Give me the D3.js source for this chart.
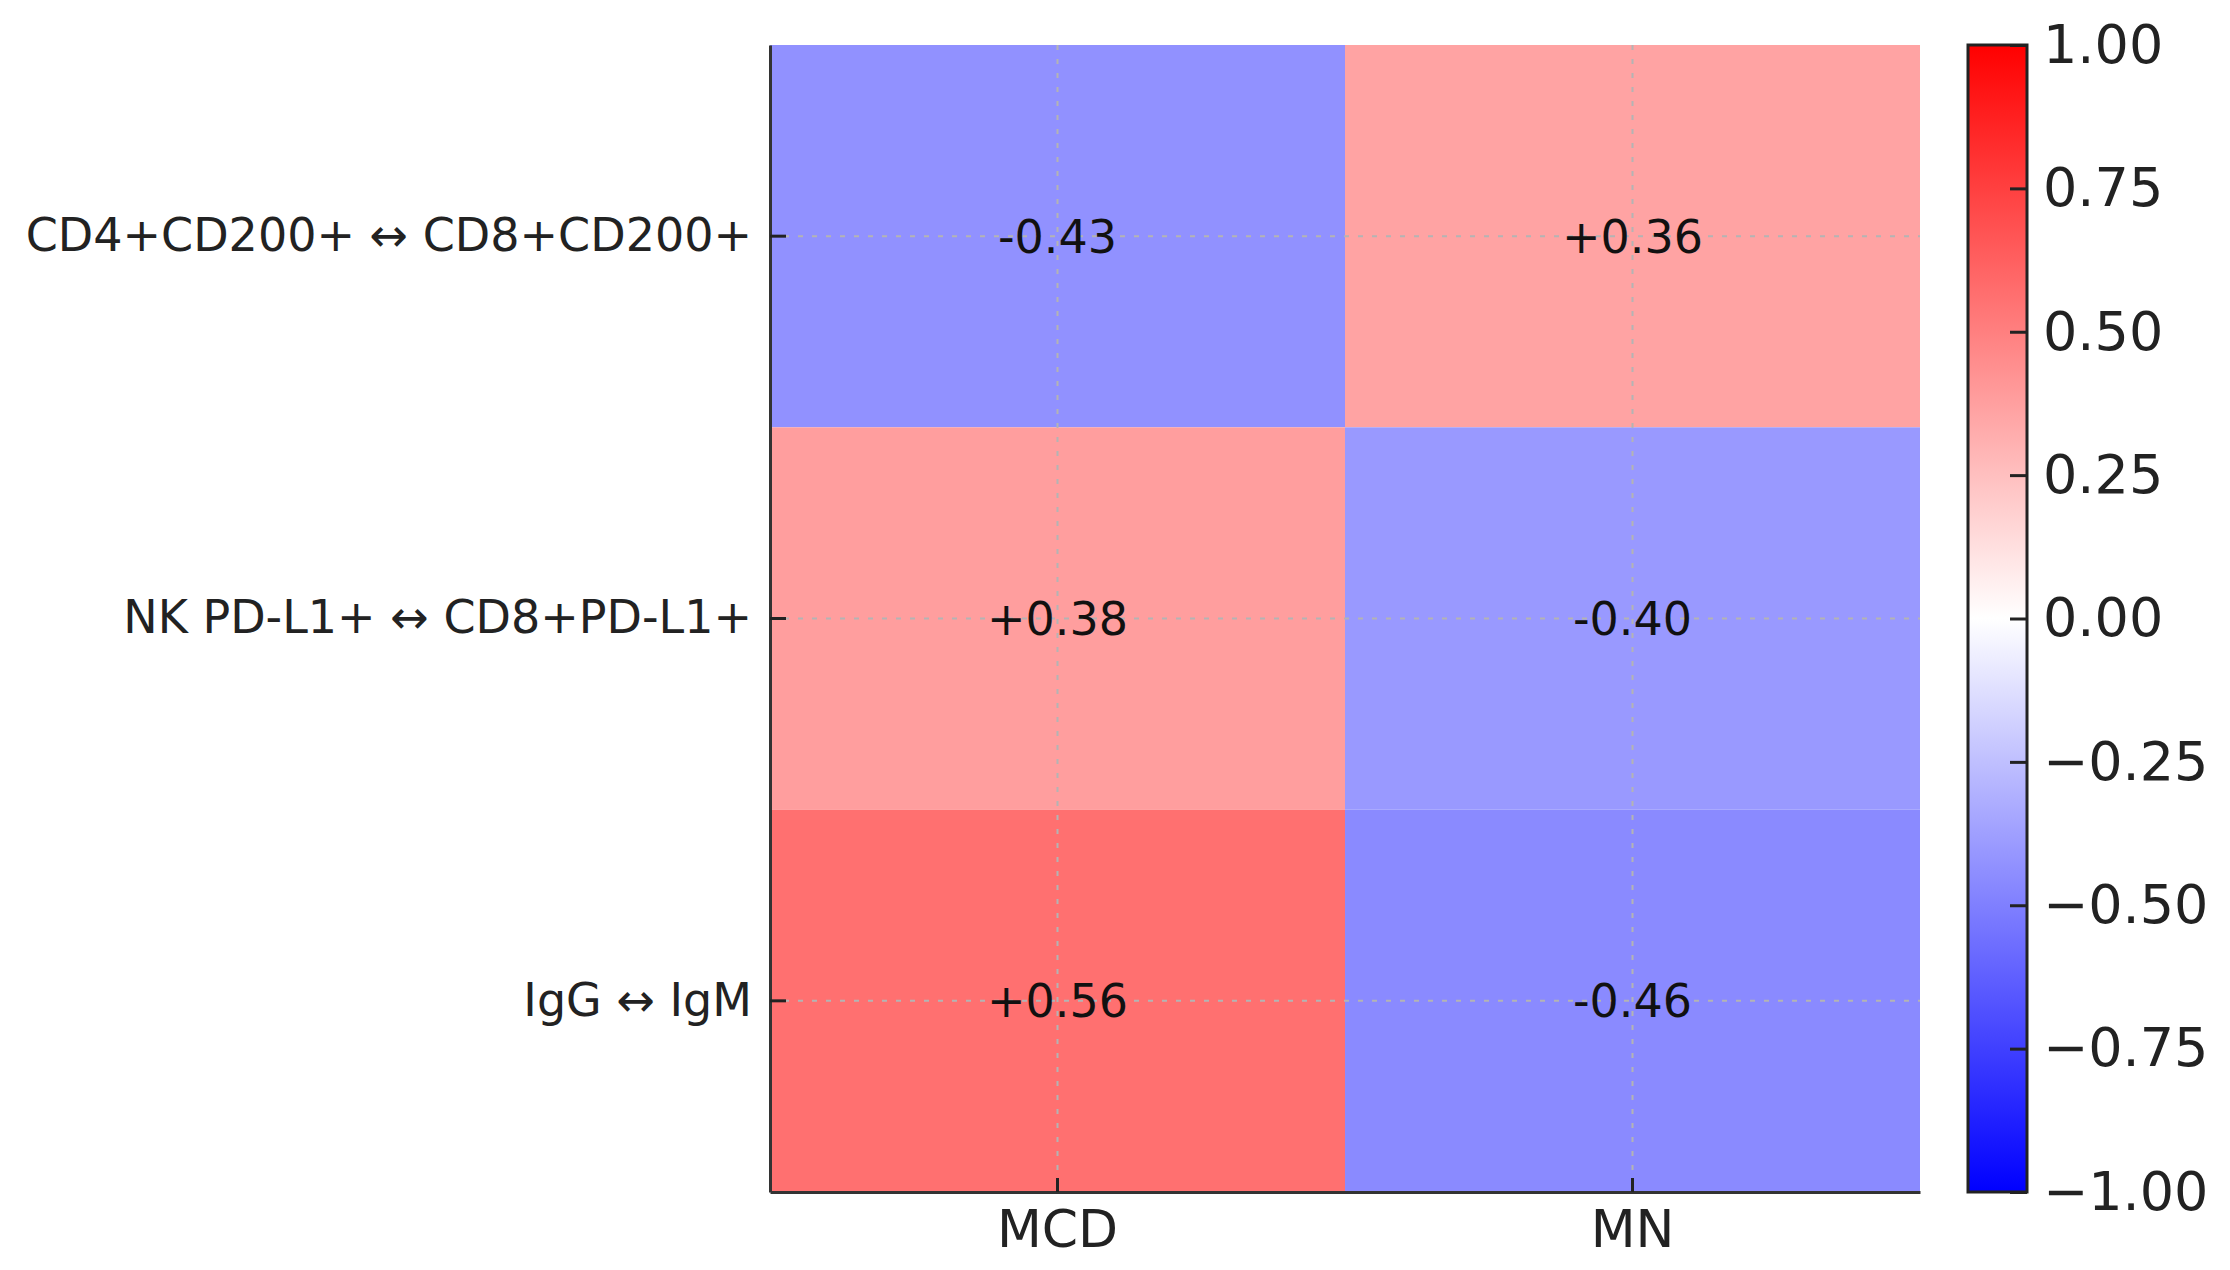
<!DOCTYPE html>
<html>
<head>
<meta charset="utf-8">
<script src="https://cdn.jsdelivr.net/npm/d3@7"></script>
<style>
  body { margin: 0; background: #fff; }
  text { font-family: "DejaVu Sans", sans-serif; }
</style>
</head>
<body>
<div id="chart"></div>
<script>
// Row pairs, groups and correlation values
const rowLabels = ["CD4+CD200+ \u2194 CD8+CD200+", "NK PD-L1+ \u2194 CD8+PD-L1+", "IgG \u2194 IgM"];
const colLabels = ["MCD", "MN"];
const mcdValues = [-0.43, 0.38, 0.56];
const mnValues = [0.36, -0.40, -0.46];
const cbarTicks = [-1, -0.75, -0.5, -0.25, 0, 0.25, 0.5, 0.75, 1];

const width = 2230, height = 1270;
const plot = { left: 770, right: 1920, top: 45, bottom: 1192 };
const cbar = { left: 1968, right: 2027 };

// flatten into cells
const cells = [];
rowLabels.forEach((r, i) => {
  cells.push({ row: r, col: "MCD", value: mcdValues[i] });
  cells.push({ row: r, col: "MN", value: mnValues[i] });
});

const svg = d3.select("#chart").append("svg")
  .attr("width", width)
  .attr("height", height);

const xScale = d3.scaleBand().domain(colLabels).range([plot.left, plot.right]);
const yScale = d3.scaleBand().domain(rowLabels).range([plot.top, plot.bottom]);

// bwr colormap, vmin -1 / vmax 1
const colorScale = d3.scaleLinear()
  .domain([-1, 0, 1])
  .range(["#0000ff", "#ffffff", "#ff0000"]);

// heatmap cells
svg.append("g").selectAll("rect")
  .data(cells)
  .join("rect")
  .attr("x", d => xScale(d.col))
  .attr("y", d => yScale(d.row))
  .attr("width", xScale.bandwidth())
  .attr("height", yScale.bandwidth())
  .attr("fill", d => colorScale(d.value));

// dashed grid on top of cells
const grid = svg.append("g")
  .attr("stroke", "#b4b4b4")
  .attr("stroke-width", 2)
  .attr("stroke-dasharray", "5,9");
grid.selectAll(".vg")
  .data(colLabels)
  .join("line")
  .attr("x1", d => xScale(d) + xScale.bandwidth() / 2)
  .attr("x2", d => xScale(d) + xScale.bandwidth() / 2)
  .attr("y1", plot.top)
  .attr("y2", plot.bottom);
grid.selectAll(".hg")
  .data(rowLabels)
  .join("line")
  .attr("y1", d => yScale(d) + yScale.bandwidth() / 2)
  .attr("y2", d => yScale(d) + yScale.bandwidth() / 2)
  .attr("x1", plot.left)
  .attr("x2", plot.right);

// value annotations
svg.append("g").selectAll("text")
  .data(cells)
  .join("text")
  .attr("x", d => xScale(d.col) + xScale.bandwidth() / 2)
  .attr("y", d => yScale(d.row) + yScale.bandwidth() / 2)
  .attr("dy", "0.36em")
  .attr("text-anchor", "middle")
  .attr("font-size", "46px")
  .attr("fill", "#111")
  .text(d => (d.value > 0 ? "+" : "") + d.value.toFixed(2));

// axes (ticks point inward)
const yAxis = svg.append("g")
  .attr("transform", `translate(${plot.left},0)`)
  .call(d3.axisLeft(yScale).tickSizeInner(-16).tickSizeOuter(0).tickPadding(18));
yAxis.selectAll("text").attr("font-size", "46px").attr("fill", "#222");

const xAxis = svg.append("g")
  .attr("transform", `translate(0,${plot.bottom})`)
  .call(d3.axisBottom(xScale).tickSizeInner(-14).tickSizeOuter(0).tickPadding(18));
xAxis.selectAll("text").attr("font-size", "52px").attr("fill", "#222");

[yAxis, xAxis].forEach(ax => {
  ax.select(".domain").attr("stroke", "#333").attr("stroke-width", 3);
  ax.selectAll(".tick line").attr("stroke", "#222").attr("stroke-width", 3);
});

// colorbar
const cScale = d3.scaleLinear().domain([-1, 1]).range([plot.bottom, plot.top]);
const grad = svg.append("defs").append("linearGradient")
  .attr("id", "bwr")
  .attr("x1", 0).attr("y1", 1).attr("x2", 0).attr("y2", 0);
grad.selectAll("stop")
  .data([-1, 0, 1])
  .join("stop")
  .attr("offset", d => (d + 1) / 2)
  .attr("stop-color", d => colorScale(d));

svg.append("rect")
  .attr("x", cbar.left)
  .attr("y", cScale(1))
  .attr("width", cbar.right - cbar.left)
  .attr("height", cScale(-1) - cScale(1))
  .attr("fill", "url(#bwr)")
  .attr("stroke", "#222")
  .attr("stroke-width", 3);

const cAxis = svg.append("g")
  .attr("transform", `translate(${cbar.right},0)`)
  .call(d3.axisRight(cScale)
    .tickValues(cbarTicks)
    .tickFormat(d => d3.format(".2f")(d).replace("-", "\u2212"))
    .tickSizeInner(-17).tickSizeOuter(0).tickPadding(16));
cAxis.select(".domain").remove();
cAxis.selectAll(".tick line").attr("stroke", "#222").attr("stroke-width", 3);
cAxis.selectAll("text").attr("font-size", "54px").attr("fill", "#222");
</script>
</body>
</html>
